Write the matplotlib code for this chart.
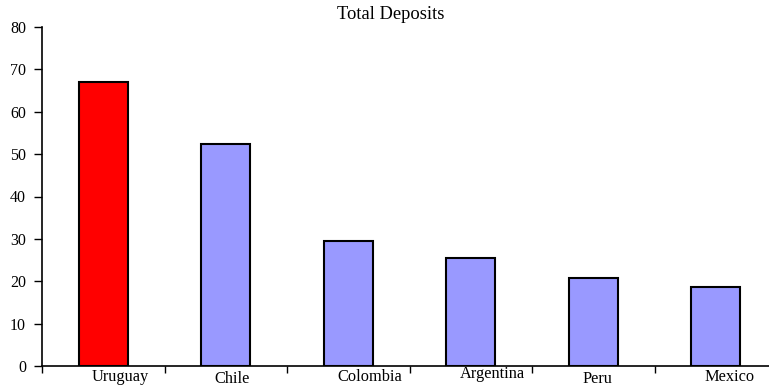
import matplotlib
matplotlib.use("Agg")
import matplotlib.pyplot as plt
import numpy as np

categories = ["Uruguay", "Chile", "Colombia", "Argentina", "Peru", "Mexico"]
values = [67.0, 52.5, 29.5, 25.5, 20.8, 18.7]
colors = ["#FF0000", "#9999FF", "#9999FF", "#9999FF", "#9999FF", "#9999FF"]
label_dx_px = [17, 6, 21, 22, 4, 14]
label_drop_px = [15, 17, 14.7, 12.3, 16.7, 15]
yticks = [0, 10, 20, 30, 40, 50, 60, 70, 80]

plt.rcParams['font.family'] = ['Liberation Serif', 'DejaVu Serif']

W, H = 769, 387
fig = plt.figure(figsize=(W / 100, H / 100), dpi=100)
ax = fig.add_axes([42 / W, 21 / H, 735 / W, 339 / H])

x = np.arange(len(categories))
ax.bar(x, values, width=0.4, color=colors, edgecolor="black", linewidth=1.5, zorder=3)

ax.set_xlim(-0.5, len(categories) - 0.5)
ax.set_ylim(0, 80)
ax.set_yticks(yticks)
ax.set_yticklabels([str(t) for t in yticks], fontsize=11.5)
ax.tick_params(axis='y', direction='out', length=6, width=1, pad=5.5)

ax.set_xticks(np.arange(len(categories) + 1) - 0.5)
ax.set_xticklabels([])
ax.tick_params(axis='x', direction='out', length=5, width=1)

for i, (c, dx, d) in enumerate(zip(categories, label_dx_px, label_drop_px)):
    ax.annotate(c, xy=(i, 0), xycoords=('data', 'axes fraction'),
                xytext=(dx, -d), textcoords='offset pixels',
                ha='center', va='baseline', fontsize=11.8)

for s in ['top', 'right']:
    ax.spines[s].set_visible(False)
ax.spines['left'].set_linewidth(1.2)
ax.spines['bottom'].set_linewidth(1.2)

fig.text(391 / W, 1 - 19 / H, "Total Deposits", ha='center', va='baseline', fontsize=13.3)

fig.savefig("out.png", dpi=100)
